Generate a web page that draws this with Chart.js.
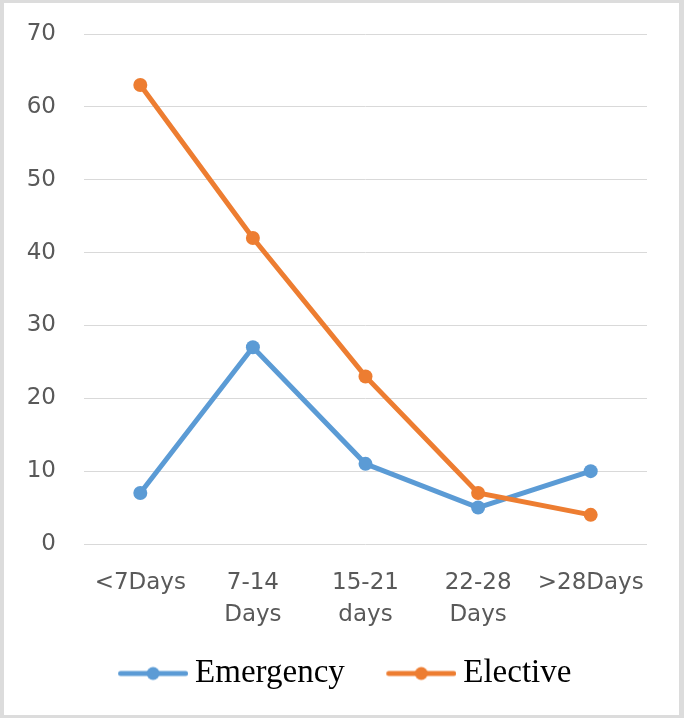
<!DOCTYPE html>
<html>
<head>
<meta charset="utf-8">
<script src="https://cdn.jsdelivr.net/npm/chart.js@4/dist/chart.umd.min.js"></script>
<style>
  html, body { margin: 0; padding: 0; background: #ffffff; }
  #wrap { width: 684px; height: 718px; box-sizing: border-box; border: 3px solid #dcdcdc; border-left-width: 4px; border-right-width: 5px; background: #fff; }
  #c { display: block; }
</style>
</head>
<body>
<div id="wrap"><canvas id="c" width="675" height="712"></canvas></div>
<script>
const categories = [["<7Days"], ["7-14", "Days"], ["15-21", "days"], ["22-28", "Days"], [">28Days"]];
const emergency = [7, 27, 11, 5, 10];
const elective = [63, 42, 23, 7, 4];
const yTicks = [0, 10, 20, 30, 40, 50, 60, 70];

const BLUE = '#5B9BD5';
const ORANGE = '#ED7D31';

// legend swatch: transparent left margin, visible line with marker in the right 70px
function swatch(color) {
  const W = 109;
  const cv = document.createElement('canvas');
  cv.width = W; cv.height = 16;
  const g = cv.getContext('2d');
  const x0 = W - 70;
  g.strokeStyle = color; g.lineWidth = 5; g.lineCap = 'round';
  g.beginPath(); g.moveTo(x0 + 2.5, 8); g.lineTo(W - 2.5, 8); g.stroke();
  g.fillStyle = color;
  g.beginPath(); g.arc(x0 + 35, 8, 6.5, 0, Math.PI * 2); g.fill();
  return cv;
}
const swatches = [swatch(BLUE), swatch(ORANGE)];

new Chart(document.getElementById('c'), {
  type: 'line',
  data: {
    labels: categories,
    datasets: [
      { label: 'Emergency', data: emergency, borderColor: BLUE, backgroundColor: BLUE,
        pointBackgroundColor: BLUE, borderWidth: 5, pointRadius: 7, pointBorderWidth: 0,
        pointStyle: 'circle', order: 1 },
      { label: 'Elective', data: elective, borderColor: ORANGE, backgroundColor: ORANGE,
        pointBackgroundColor: ORANGE, borderWidth: 5, pointRadius: 7, pointBorderWidth: 0,
        pointStyle: 'circle', order: 0 }
    ]
  },
  options: {
    responsive: false,
    animation: false,
    layout: { padding: { top: 31, right: 32, bottom: 15, left: 9 } },
    elements: { line: { tension: 0 } },
    scales: {
      x: {
        offset: true,
        afterFit: (s) => { s.height = 101; },
        grid: { display: false, drawTicks: false },
        border: { display: false },
        ticks: { color: '#595959', font: { family: 'DejaVu Sans', size: 23, lineHeight: 1.39 }, padding: 23, maxRotation: 0, autoSkip: false }
      },
      y: {
        min: 0, max: 70,
        afterBuildTicks: (s) => { s.ticks = yTicks.map(v => ({ value: v })); },
        afterFit: (s) => { s.width = 71; s.paddingTop = 0; s.paddingBottom = 0; },
        grid: { color: '#d9d9d9', lineWidth: 1, drawTicks: false },
        border: { display: false },
        ticks: { color: '#595959', font: { family: 'DejaVu Sans', size: 23 }, padding: 28 }
      }
    },
    plugins: {
      tooltip: { enabled: false },
      legend: {
        position: 'bottom',
        labels: {
          usePointStyle: true,
          pointStyleWidth: 90,
          padding: 12,
          color: '#505050',
          font: { family: 'Liberation Serif', size: 33 },
          sort: (a, b) => a.datasetIndex - b.datasetIndex,
          generateLabels: (chart) => chart.data.datasets.map((ds, i) => ({
            text: ds.label, fillStyle: ds.borderColor, strokeStyle: ds.borderColor,
            lineWidth: 0, pointStyle: swatches[i], datasetIndex: i, hidden: false
          }))
        }
      }
    }
  }
});
</script>
</body>
</html>
